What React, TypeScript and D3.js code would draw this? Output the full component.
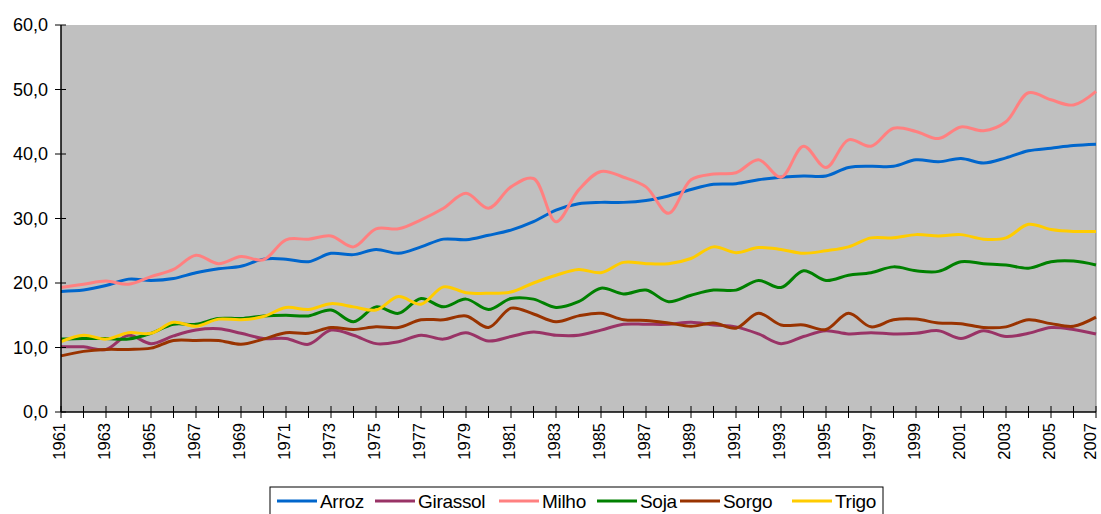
import React from "react";
import * as d3 from "d3";

const years: number[] = d3.range(1961, 2008);

const arroz = [18.7,18.9,19.6,20.6,20.4,20.7,21.6,22.2,22.6,23.7,23.7,23.3,24.6,24.4,25.2,24.6,25.6,26.8,26.7,27.4,28.2,29.5,31.3,32.3,32.5,32.5,32.8,33.5,34.5,35.3,35.4,36.0,36.4,36.6,36.6,37.9,38.1,38.1,39.1,38.8,39.3,38.6,39.4,40.5,40.9,41.3,41.5];
const girassol = [10.1,10.1,9.7,11.9,10.6,11.8,12.7,12.9,12.2,11.4,11.4,10.5,12.7,11.9,10.6,10.9,11.9,11.3,12.3,11.0,11.7,12.4,11.9,11.9,12.7,13.6,13.6,13.6,13.9,13.5,13.2,12.1,10.6,11.7,12.6,12.1,12.3,12.1,12.2,12.6,11.4,12.6,11.7,12.2,13.1,12.8,12.1];
const milho = [19.3,19.8,20.3,19.8,21.0,22.1,24.3,23.0,24.1,23.6,26.7,26.8,27.3,25.6,28.4,28.4,29.8,31.6,33.9,31.6,34.9,36.2,29.5,34.4,37.3,36.4,34.9,30.8,36.0,36.9,37.1,39.1,36.4,41.2,37.9,42.2,41.2,44.0,43.5,42.4,44.2,43.6,45.0,49.5,48.4,47.6,49.7];
const soja = [11.3,11.4,11.4,11.3,12.2,13.6,13.6,14.5,14.5,14.9,15.0,14.9,15.8,14.0,16.3,15.3,17.6,16.3,17.5,15.9,17.6,17.5,16.2,17.1,19.2,18.3,18.9,17.1,18.1,18.9,18.9,20.4,19.3,21.9,20.4,21.2,21.6,22.5,21.9,21.8,23.3,23.0,22.8,22.3,23.3,23.4,22.8];
const sorgo = [8.7,9.4,9.7,9.7,9.9,11.1,11.1,11.1,10.5,11.3,12.3,12.2,13.1,12.8,13.2,13.1,14.3,14.3,14.9,13.1,16.1,15.2,14.0,14.9,15.3,14.3,14.2,13.8,13.3,13.8,13.0,15.3,13.5,13.5,12.8,15.3,13.2,14.3,14.4,13.8,13.7,13.1,13.2,14.3,13.7,13.3,14.7];
const trigo = [10.9,11.9,11.3,12.3,12.2,13.9,13.3,14.4,14.3,14.8,16.2,15.9,16.8,16.3,15.8,17.9,16.7,19.4,18.5,18.4,18.6,20.0,21.2,22.1,21.6,23.2,23.0,23.0,23.8,25.6,24.7,25.5,25.2,24.6,25.0,25.6,27.0,27.0,27.5,27.3,27.5,26.8,27.0,29.1,28.3,28.0,28.0];

const seriesNames = ["Arroz", "Girassol", "Milho", "Soja", "Sorgo", "Trigo"];
const seriesValues = [arroz, girassol, milho, soja, sorgo, trigo];
const seriesColors = ["#0066CC", "#993366", "#FF8080", "#008000", "#993300", "#FFCC00"];
const yTicks = [0, 10, 20, 30, 40, 50, 60];
const xLabelYears = years.filter((y) => (y - 1961) % 2 === 0);

const W = 1101, H = 514;
const M = { left: 61, right: 1096, top: 25, bottom: 412 };
const FONT = "'Liberation Sans', Arial, sans-serif";

// legend layout (line sample start positions)
const legendX = [277, 375, 499, 597, 680, 792];

export default function App() {
  const x = d3.scaleLinear().domain([1961, 2007]).range([M.left, M.right]);
  const y = d3.scaleLinear().domain([0, 60]).range([M.bottom, M.top]);
  const line = d3
    .line<number>()
    .x((_, i) => x(years[i]))
    .y((d) => y(d))
    .curve(d3.curveCatmullRom.alpha(0.5));
  const fmt = (v: number) => v.toFixed(1).replace(".", ",");

  return (
    <svg width={W} height={H} style={{ position: "absolute", left: 0, top: 0, background: "#fff" }} fontFamily={FONT}>
      <rect x={M.left} y={M.top} width={M.right - M.left} height={M.bottom - M.top} fill="#C0C0C0" />
      <line x1={M.right} x2={M.right} y1={M.top} y2={M.bottom} stroke="#808080" strokeWidth={1} />
      {seriesValues.map((vals, i) => (
        <path key={seriesNames[i]} d={line(vals) || ""} fill="none" stroke={seriesColors[i]} strokeWidth={3} strokeLinejoin="round" />
      ))}
      {/* Y axis */}
      <line x1={M.left} x2={M.left} y1={M.top} y2={M.bottom} stroke="#000" strokeWidth={1.5} />
      {yTicks.map((t) => (
        <g key={t}>
          <line x1={M.left - 6} x2={M.left + 5} y1={y(t)} y2={y(t)} stroke="#000" strokeWidth={1} />
          <text x={M.left - 13} y={y(t)} textAnchor="end" dominantBaseline="central" fontSize={18} fill="#000">
            {fmt(t)}
          </text>
        </g>
      ))}
      {/* X axis */}
      <line x1={M.left} x2={M.right} y1={M.bottom} y2={M.bottom} stroke="#000" strokeWidth={1.5} />
      {years.map((yr) => (
        <line key={yr} x1={x(yr)} x2={x(yr)} y1={M.bottom - 6} y2={M.bottom + 6} stroke="#000" strokeWidth={1} />
      ))}
      {xLabelYears.map((yr) => {
        const cx = Math.min(x(yr) - 2, W - 11);
        const cy = M.bottom + 11;
        return (
          <text
            key={yr}
            x={cx}
            y={cy}
            transform={`rotate(-90, ${cx}, ${cy})`}
            textAnchor="end"
            dominantBaseline="central"
            fontSize={16.5}
            fill="#000"
          >
            {yr}
          </text>
        );
      })}
      {/* Legend */}
      <rect x={270} y={487} width={613} height={40} fill="#fff" stroke="#000" strokeWidth={1} />
      {seriesNames.map((n, i) => (
        <g key={n}>
          <line x1={legendX[i]} x2={legendX[i] + 40} y1={501} y2={501} stroke={seriesColors[i]} strokeWidth={3} />
          <text x={legendX[i] + 43} y={501} dominantBaseline="central" fontSize={19} fill="#000" letterSpacing={-0.3}>
            {n}
          </text>
        </g>
      ))}
    </svg>
  );
}
